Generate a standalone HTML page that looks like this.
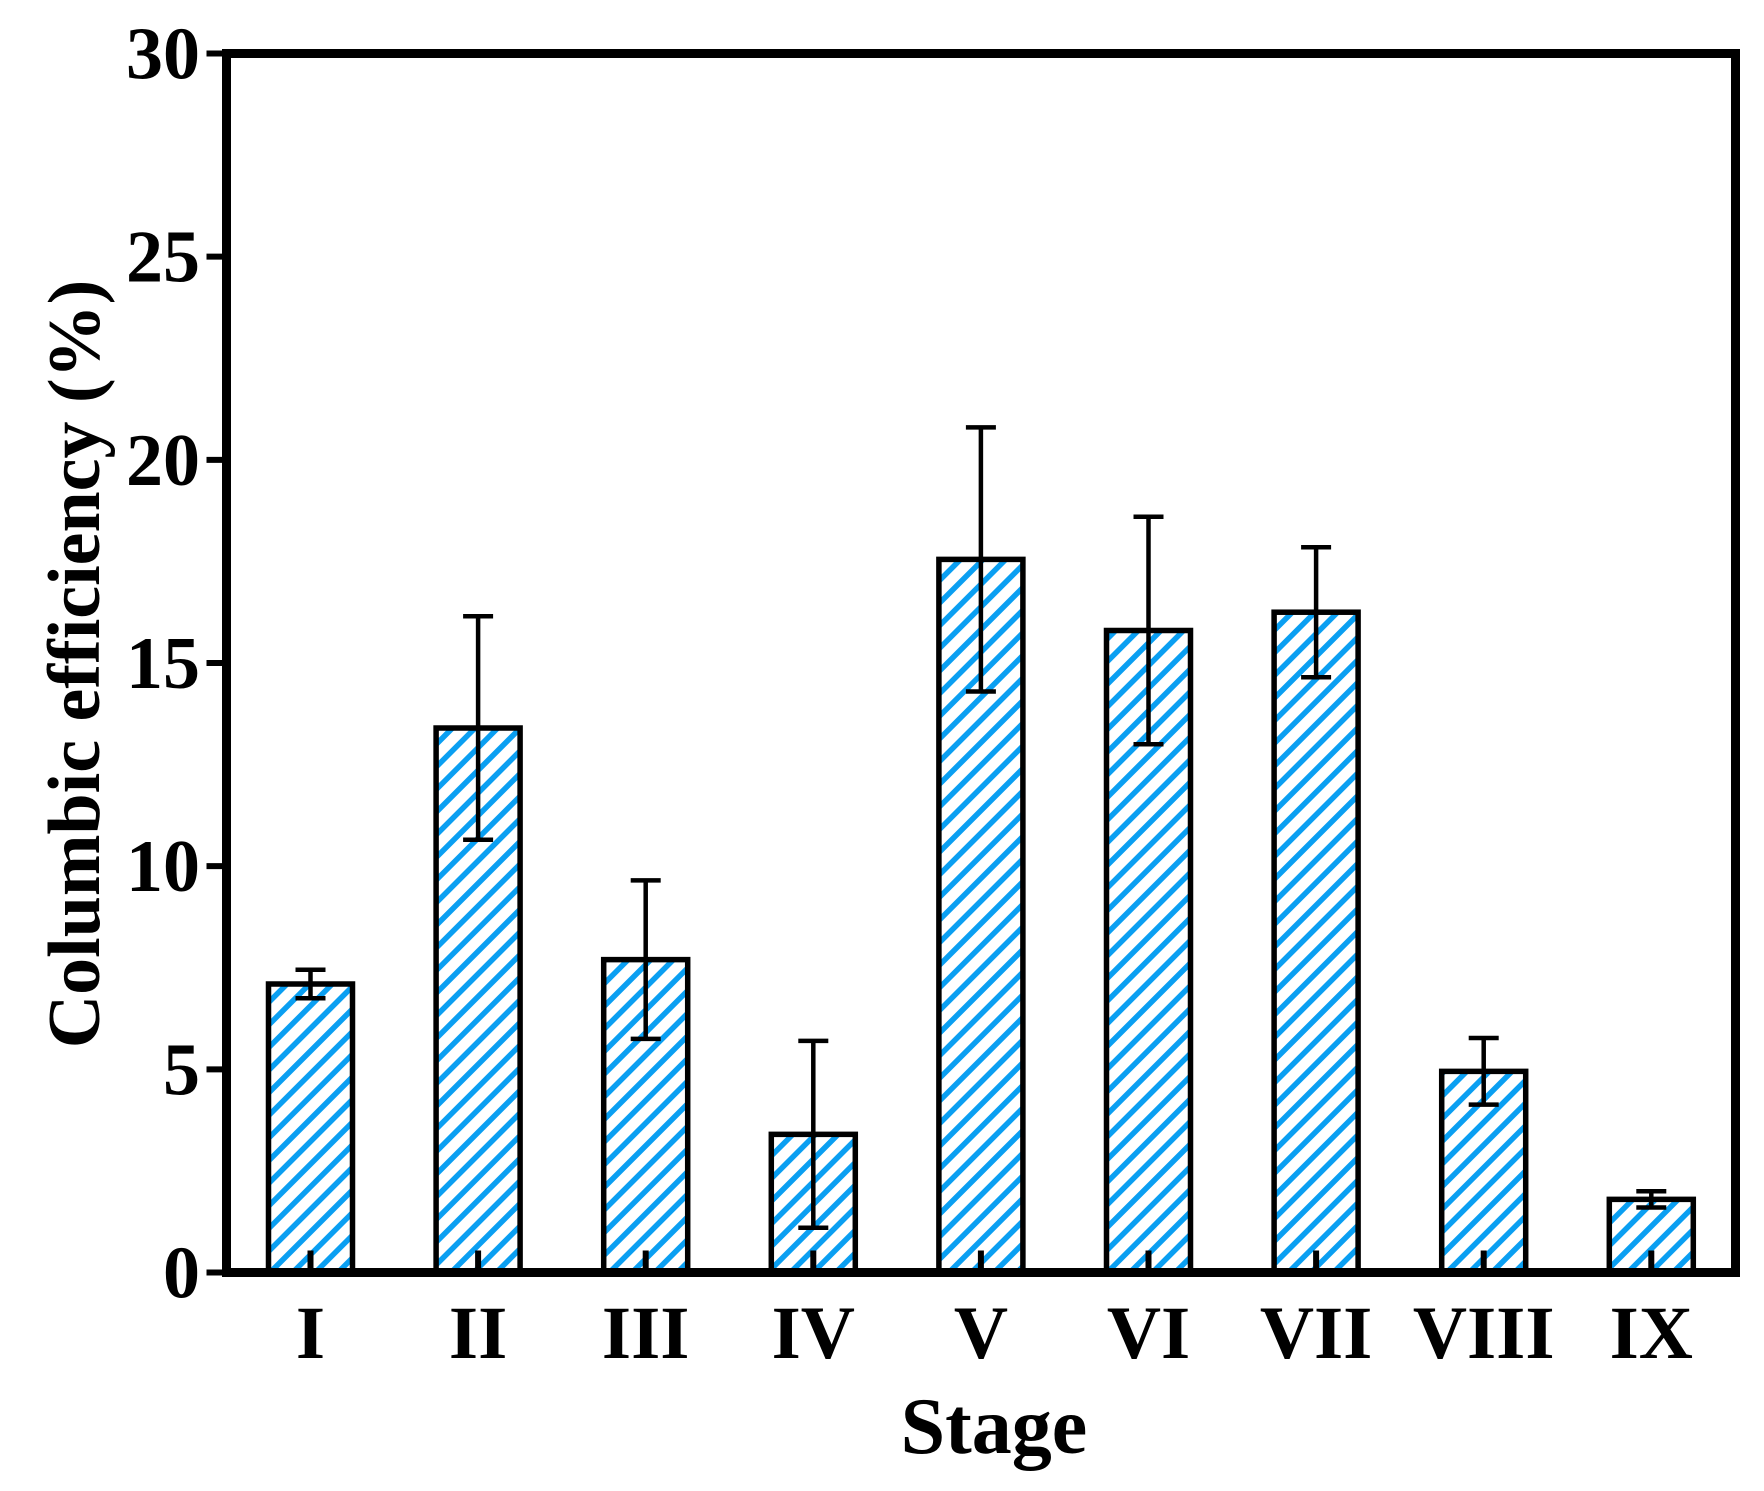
<!DOCTYPE html>
<html><head><meta charset="utf-8"><style>
html,body{margin:0;padding:0;background:#fff;}
svg{display:block;}
text{font-family:"Liberation Serif",serif;font-weight:bold;fill:#000;}
</style></head><body>
<svg id="chart" width="1764" height="1491" viewBox="0 0 1764 1491" xmlns="http://www.w3.org/2000/svg">
<defs>
<pattern id="hatch" patternUnits="userSpaceOnUse" width="16" height="16" patternTransform="rotate(45)">
<rect width="16" height="16" fill="#fff"/>
<rect x="0" y="0" width="5.5" height="16" fill="#0a9ff2"/>
</pattern>
</defs>
<g id="plot"></g>
</svg>
<script>
const categories = ["I","II","III","IV","V","VI","VII","VIII","IX"];
const values = [7.1,13.4,7.7,3.4,17.55,15.8,16.25,4.95,1.8];
const errors = [0.35,2.75,1.95,2.3,3.25,2.8,1.6,0.82,0.2];
const yTicks = [0,5,10,15,20,25,30];

const NS="http://www.w3.org/2000/svg";
const g=document.getElementById('plot');
const L=226.5,R=1735.5,T=53.5,B=1272.5;
const yMin=0,yMax=30;
function y(v){return B-(v-yMin)/(yMax-yMin)*(B-T);}
const firstC=310.5,step=167.6;
function x(i){return firstC+i*step;}
function mk(tag,attrs){const e=document.createElementNS(NS,tag);for(const k in attrs)e.setAttribute(k,attrs[k]);g.appendChild(e);return e;}

categories.forEach((c,i)=>{
  const cx=x(i),w=84;
  const r=mk('rect',{x:cx-w/2,y:y(values[i]),width:w,height:B-y(values[i]),fill:'url(#hatch)',stroke:'#000','stroke-width':5.5});
  
  
  const hi=y(values[i]+errors[i]),lo=y(values[i]-errors[i]);
  const eb=mk('path',{d:`M${cx},${hi}V${lo}M${cx-15},${hi}H${cx+15}M${cx-15},${lo}H${cx+15}`,stroke:'#000','stroke-width':4.5,fill:'none'});
  
  
  const tk=mk('line',{x1:cx,x2:cx,y1:B,y2:B-22,stroke:'#000','stroke-width':6});
  
  
  const t=mk('text',{x:cx,y:1358,'text-anchor':'middle','font-size':75});
  t.textContent=c;
  
  
});

yTicks.forEach(v=>{
  const tk=mk('line',{x1:L,x2:L-20,y1:y(v),y2:y(v),stroke:'#000','stroke-width':6});
  
  
  const t=mk('text',{x:200,y:y(v)+25,'text-anchor':'end','font-size':74});
  t.textContent=v;
  
  
});

const fr=mk('rect',{x:L,y:T,width:R-L,height:B-T,fill:'none',stroke:'#000','stroke-width':9});



const xt=mk('text',{x:994,y:1453,'text-anchor':'middle','font-size':80});
xt.textContent='Stage';



const yt=mk('text',{x:0,y:0,'text-anchor':'middle','font-size':74,transform:'translate(99,664) rotate(-90)'});
yt.textContent='Columbic efficiency (%)';


</script>
</body></html>
